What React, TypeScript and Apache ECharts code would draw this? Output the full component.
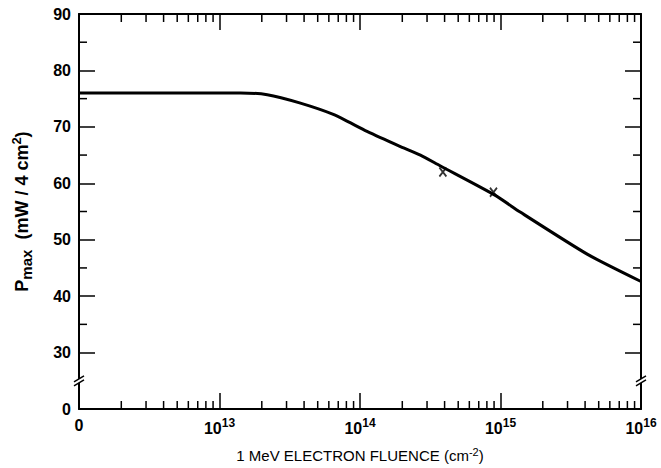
import React, { useEffect, useRef } from "react";
import * as echarts from "echarts";

// x positions are log10 of the fluence; 12 is the axis origin labelled "0"
const fluenceExp = [12, 13.0, 13.15, 13.34, 13.57, 13.81, 14.05, 14.28, 14.43, 14.57, 14.96, 15.14, 15.62, 16.0];
const pmax = [76, 76, 76, 75.7, 74.25, 72.2, 69.2, 66.6, 65.0, 63.1, 57.9, 54.9, 47.4, 42.6];
const measuredExp = [14.59, 14.95];
const measuredPmax = [62.0, 58.4];
// y axis is broken: the bottom position (20) is labelled "0"
const yMinor = [35, 45, 55, 65, 75, 85];
const decades = [12, 13, 14, 15];
const minorMultipliers = [2, 3, 4, 5, 6, 7, 8, 9];

const FONT = "'Liberation Sans', Arial, sans-serif";

export default function App() {
  const ref = useRef<HTMLDivElement>(null);
  useEffect(() => {
    if (!ref.current) return;
    const chart = echarts.init(ref.current, null, { renderer: "svg" });
    const xMinor: number[][] = [];
    decades.forEach((d) => minorMultipliers.forEach((k) => xMinor.push([d + Math.log10(k), 20])));
    const yMinorData = yMinor.map((v) => [12, v]);
    const tickStyle = { stroke: "#000", lineWidth: 1.5 };
    const xAxisBase = {
      type: "value" as const,
      min: 12,
      max: 16,
      interval: 1,
      splitLine: { show: false },
      axisLine: { lineStyle: { color: "#000", width: 2 } },
      axisTick: { inside: true, length: 16, lineStyle: { color: "#000", width: 1.5 } },
    };
    const yAxisBase = {
      type: "value" as const,
      min: 20,
      max: 90,
      interval: 10,
      splitLine: { show: false },
      axisLine: { lineStyle: { color: "#000", width: 2 } },
      axisTick: { inside: true, length: 16, lineStyle: { color: "#000", width: 1.5 } },
    };
    chart.setOption({
      animation: false,
      grid: { left: 79, right: 20, top: 14, bottom: 56, containLabel: false },
      xAxis: [
        {
          ...xAxisBase,
          position: "bottom",
          name: "1 MeV ELECTRON FLUENCE (cm{s|-2})",
          nameLocation: "middle",
          nameGap: 37,
          nameTextStyle: {
            fontFamily: FONT,
            fontSize: 15,
            color: "#000",
            rich: {
              s: { fontFamily: FONT, fontSize: 11, color: "#000", padding: [0, 0, 8, 0] },
            },
          },
          axisLabel: {
            margin: 8,
            fontFamily: FONT,
            fontSize: 16,
            color: "#000",
            formatter: (v: number) => (v === 12 ? "{b|0}" : `{b|10}{s|${v}}`),
            rich: {
              b: { fontFamily: FONT, fontSize: 16, fontWeight: "bold", color: "#000" },
              s: { fontFamily: FONT, fontSize: 12, fontWeight: "bold", color: "#000", padding: [0, 0, 10, 0] },
            },
          },
        },
        { ...xAxisBase, position: "top", axisLabel: { show: false } },
      ],
      yAxis: [
        {
          ...yAxisBase,
          position: "left",
          name: "P{sub|max}  (mW / 4 cm{sup|2})",
          nameLocation: "middle",
          nameGap: 45,
          nameRotate: 90,
          nameTextStyle: {
            fontFamily: FONT,
            fontSize: 18,
            fontWeight: "bold",
            color: "#000",
            rich: {
              sub: { fontFamily: FONT, fontSize: 15, fontWeight: "bold", color: "#000", padding: [9, 0, 0, 0] },
              sup: { fontFamily: FONT, fontSize: 13, fontWeight: "bold", color: "#000", padding: [0, 0, 11, 0] },
            },
          },
          axisLabel: {
            margin: 8,
            fontFamily: FONT,
            fontSize: 16,
            fontWeight: "bold",
            color: "#000",
            formatter: (v: number) => (v === 20 ? "0" : String(v)),
          },
        },
        { ...yAxisBase, position: "right", axisLabel: { show: false } },
      ],
      series: [
        {
          type: "line",
          data: fluenceExp.map((x, i) => [x, pmax[i]]),
          smooth: 0.2,
          showSymbol: false,
          lineStyle: { color: "#000", width: 3 },
          z: 3,
        },
        {
          type: "scatter",
          data: measuredExp.map((x, i) => [x, measuredPmax[i]]),
          symbol: "path://M0,0L6,9M6,0L0,9",
          symbolSize: [7, 9],
          itemStyle: { color: "none", borderColor: "#000", borderWidth: 2 },
          z: 4,
        },
        {
          type: "custom",
          coordinateSystem: "cartesian2d",
          clip: false,
          silent: true,
          data: xMinor,
          renderItem: (params: any, api: any) => {
            const v = api.value(0);
            const b = api.coord([v, 20]);
            const t = api.coord([v, 90]);
            return {
              type: "group",
              children: [
                { type: "line", shape: { x1: b[0], y1: b[1], x2: b[0], y2: b[1] - 8 }, style: tickStyle },
                { type: "line", shape: { x1: t[0], y1: t[1], x2: t[0], y2: t[1] + 8 }, style: tickStyle },
              ],
            };
          },
        },
        {
          type: "custom",
          coordinateSystem: "cartesian2d",
          clip: false,
          silent: true,
          data: yMinorData,
          renderItem: (params: any, api: any) => {
            const v = api.value(1);
            const l = api.coord([12, v]);
            const r = api.coord([16, v]);
            return {
              type: "group",
              children: [
                { type: "line", shape: { x1: l[0], y1: l[1], x2: l[0] + 8, y2: l[1] }, style: tickStyle },
                { type: "line", shape: { x1: r[0], y1: r[1], x2: r[0] - 8, y2: r[1] }, style: tickStyle },
              ],
            };
          },
        },
        {
          type: "custom",
          coordinateSystem: "cartesian2d",
          clip: false,
          silent: true,
          z: 5,
          data: [[12, 25], [16, 25]],
          renderItem: (params: any, api: any) => {
            const p = api.coord([api.value(0), api.value(1)]);
            const x = p[0];
            const y = p[1];
            return {
              type: "group",
              children: [
                {
                  type: "polygon",
                  shape: { points: [[x - 5, y + 1], [x + 5, y - 5], [x + 5, y - 1], [x - 5, y + 5]] },
                  style: { fill: "#fff", stroke: "none" },
                },
                { type: "line", shape: { x1: x - 5, y1: y + 1, x2: x + 5, y2: y - 5 }, style: tickStyle },
                { type: "line", shape: { x1: x - 5, y1: y + 5, x2: x + 5, y2: y - 1 }, style: tickStyle },
              ],
            };
          },
        },
      ],
    });
    return () => chart.dispose();
  }, []);
  return (
    <div
      ref={ref}
      style={{ position: "absolute", left: 0, top: 0, width: 661, height: 468, background: "#fff" }}
    />
  );
}
